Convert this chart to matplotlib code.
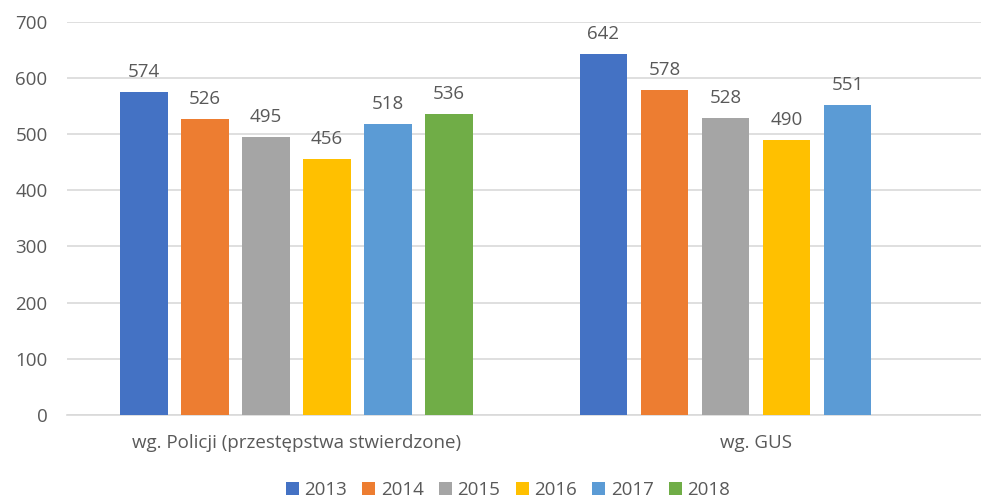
import numpy as np
import matplotlib
matplotlib.use("Agg")
from matplotlib import pyplot as plt

categories = ["wg. Policji (przestępstwa stwierdzone)", "wg. GUS"]
years = ["2013", "2014", "2015", "2016", "2017", "2018"]
values = {
    "2013": [574, 642],
    "2014": [526, 578],
    "2015": [495, 528],
    "2016": [456, 490],
    "2017": [518, 551],
    "2018": [536, np.nan],
}
colors = ["#4472C4", "#ED7D31", "#A5A5A5", "#FFC000", "#5B9BD5", "#70AD47"]

plt.rcParams['font.family'] = ['Open Sans', 'DejaVu Sans']
text_color = "#595959"
fs = 13.5

fig = plt.figure(figsize=(9.81, 4.99), dpi=100)
ax = fig.add_axes([67 / 981, 1 - 415 / 499, (981 - 67) / 981, (415 - 21.7) / 499])

x = np.arange(len(categories))
step = 0.1328
width = 0.104
for i, year in enumerate(years):
    vals = np.array(values[year], dtype=float)
    pos = x + (i - 2.5) * step
    ax.bar(pos, vals, width, color=colors[i], label=year, zorder=3)
    for p, v in zip(pos, vals):
        if not np.isnan(v):
            ax.annotate(f"{int(v)}", (p, v), xytext=(0, 8), textcoords="offset points",
                        ha="center", va="bottom", fontsize=fs, color=text_color)

ax.set_xlim(-0.5, 1.49)
ax.set_ylim(0, 700)
ax.set_yticks(range(0, 701, 100))
ax.set_xticks(x)
ax.set_xticklabels(categories)
ax.tick_params(axis="both", length=0, labelsize=fs, labelcolor=text_color)
ax.tick_params(axis="x", pad=14)
ax.tick_params(axis="y", pad=14)
ax.grid(axis="y", color="#D9D9D9", linewidth=1.2, zorder=0)
for s in ["top", "right", "left"]:
    ax.spines[s].set_visible(False)
ax.spines["bottom"].set_color("#D9D9D9")
ax.spines["bottom"].set_linewidth(1.2)

fig.legend(loc="center", bbox_to_anchor=(508 / 981, 1 - 490 / 499), ncol=6,
           frameon=False, fontsize=fs, handlelength=0.7, handleheight=0.7,
           handletextpad=0.3, columnspacing=0.8, labelcolor=text_color)

fig.savefig("out.png", dpi=100)
